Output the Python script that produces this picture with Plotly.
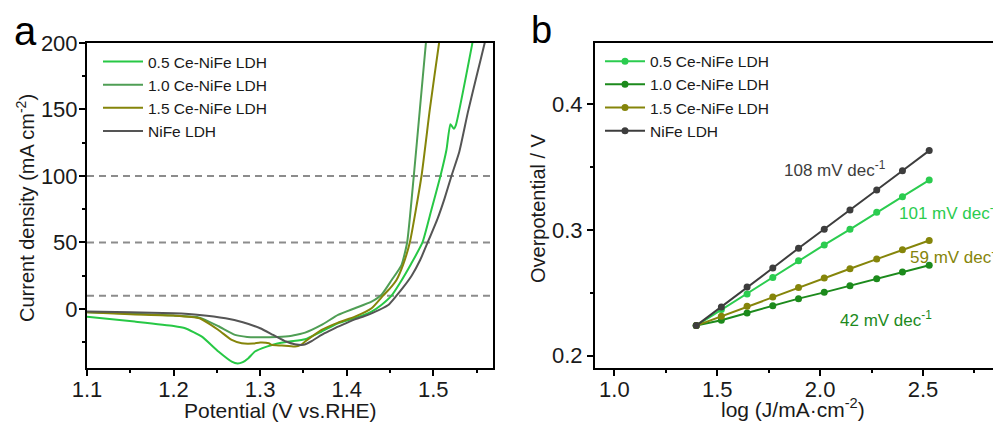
import plotly.graph_objects as go

# ---------------- Panel a: LSV curves ----------------
names = ["0.5 Ce-NiFe LDH", "1.0 Ce-NiFe LDH", "1.5 Ce-NiFe LDH", "NiFe LDH"]

pot_05 = [1.10, 1.155, 1.20, 1.2134, 1.2327, 1.2518, 1.2672, 1.274, 1.28, 1.2864, 1.294, 1.3076, 1.32, 1.334,
          1.352, 1.371, 1.39, 1.409, 1.4287, 1.44, 1.4518, 1.4613, 1.4745, 1.4875, 1.498, 1.5083, 1.5152,
          1.5198, 1.5237, 1.526, 1.5452, 1.548]
cur_05 = [-5.8, -9.5, -12.8, -14.5, -20.8, -32, -39.6, -41, -40, -37, -32, -28.3, -26, -24.5,
          -22.8, -17, -10.8, -7, -2, 3, 10, 19.3, 34, 50, 75, 100, 119.5,
          139, 135.5, 138, 200, 210]

pot_10 = [1.10, 1.15, 1.20, 1.23, 1.2518, 1.271, 1.285, 1.30, 1.32, 1.335, 1.346, 1.352, 1.371, 1.39,
          1.4095, 1.4287, 1.44, 1.452, 1.4633, 1.4698, 1.4775, 1.4845, 1.4915, 1.493]
cur_10 = [-2.5, -3.5, -5, -6.5, -13, -19.5, -21, -21.3, -21, -20.3, -18.8, -17.8, -12, -4.5,
          0.5, 5.5, 10.5, 21.8, 33, 50, 100, 150, 200, 210]

pot_15 = [1.10, 1.15, 1.20, 1.23, 1.2518, 1.2672, 1.2788, 1.292, 1.30, 1.31, 1.3134, 1.325, 1.3403, 1.347,
          1.352, 1.371, 1.39, 1.4095, 1.4287, 1.442, 1.452, 1.4575, 1.465, 1.4729, 1.4864, 1.496, 1.5067, 1.509]
cur_15 = [-2.5, -4, -5, -7, -15.8, -23.3, -25.8, -26, -25.3, -25.8, -27, -27.5, -28.3, -27,
          -24.5, -15.8, -10.3, -5.8, 0.5, 10, 17, 21.8, 33, 50, 100, 150, 200, 210]

pot_nife = [1.10, 1.15, 1.20, 1.23, 1.26, 1.28, 1.30, 1.315, 1.33, 1.34, 1.35, 1.36, 1.371, 1.38, 1.39,
            1.40, 1.4095, 1.42, 1.4287, 1.448, 1.4575, 1.465, 1.475, 1.485, 1.4935, 1.505, 1.513, 1.521,
            1.53, 1.54, 1.55, 1.5594, 1.562]
cur_nife = [-2, -2.5, -3.3, -4.5, -7, -10, -14.5, -19.5, -24.5, -26.5, -27, -24, -19.5, -16.5, -13.3,
            -10.5, -7.8, -5.5, -3.3, 3, 10, 16, 25, 37, 50, 68, 83, 100,
            118, 148, 175, 200, 208]

ref_levels = [10, 50, 100]

# ---------------- Panel b: Tafel plots ----------------
log_j = [1.398, 1.52, 1.645, 1.77, 1.895, 2.02, 2.145, 2.275, 2.40, 2.53]
eta_05 = [0.224, 0.2367, 0.249, 0.2622, 0.2755, 0.2881, 0.3005, 0.314, 0.3264, 0.3396]
eta_10 = [0.224, 0.2282, 0.234, 0.2398, 0.2454, 0.2504, 0.2557, 0.2612, 0.2665, 0.272]
eta_15 = [0.224, 0.2314, 0.2393, 0.2467, 0.2543, 0.2618, 0.2691, 0.2768, 0.2842, 0.2916]
eta_nife = [0.224, 0.2388, 0.2546, 0.2697, 0.2855, 0.3005, 0.3158, 0.3317, 0.347, 0.363]

slopes = ["108 mV dec<sup>-1</sup>", "101 mV dec<sup>-1</sup>", "59 mV dec<sup>-1</sup>", "42 mV dec<sup>-1</sup>"]

col_a = ["#27c845", "#4f9e55", "#85850a", "#555555"]
col_b = ["#2bcc4f", "#1c8a1c", "#85850a", "#3d3d3d"]

FONT = "Arial"
W, H = 993, 423

fig = go.Figure()

pa = [(pot_05, cur_05), (pot_10, cur_10), (pot_15, cur_15), (pot_nife, cur_nife)]
for (xs, ys), nm, c in zip(pa, names, col_a):
    fig.add_trace(go.Scatter(x=xs, y=ys, mode="lines", name=nm, line=dict(color=c, width=2, shape="spline", smoothing=0.5),
                             xaxis="x", yaxis="y", legend="legend"))

pb = [eta_05, eta_10, eta_15, eta_nife]
for ys, nm, c in zip(pb, names, col_b):
    fig.add_trace(go.Scatter(x=log_j, y=ys, mode="lines+markers", name=nm,
                             line=dict(color=c, width=2), marker=dict(color=c, size=7),
                             xaxis="x2", yaxis="y2", legend="legend2"))

shapes = []
for lv in ref_levels:
    shapes.append(dict(type="line", xref="x domain", yref="y", x0=0, x1=1, y0=lv, y1=lv,
                       line=dict(color="#8c8c8c", width=2, dash="7px,5px"), layer="below"))

axis_common = dict(showline=True, linecolor="black", linewidth=2, ticks="outside", ticklen=6,
                   tickwidth=2, tickcolor="black", showgrid=False, zeroline=False, automargin=False,
                   tickfont=dict(family=FONT, size=22, color="#1a1a1a"))

minor_common = dict(ticklen=3, ticks="outside")

fig.update_layout(
    width=W, height=H,
    margin=dict(l=0, r=0, t=43, b=55, autoexpand=False),
    plot_bgcolor="white", paper_bgcolor="white",
    font=dict(family=FONT, color="#1a1a1a"),
    xaxis=dict(domain=[87 / W, 493 / W], range=[1.1, 1.569], dtick=0.1, tick0=1.1, mirror=True,
               ticklabelstandoff=-5, minor=dict(dtick=0.05, **minor_common), anchor="y", **axis_common),
    yaxis=dict(domain=[0, 1], range=[-44.4, 200], dtick=50, tick0=0, mirror=True, ticklabelstandoff=-3,
               minor=dict(dtick=25, **minor_common), anchor="x", **axis_common),
    xaxis2=dict(domain=[595 / W, 1.0], range=[0.906, 2.84], dtick=0.5, tick0=1.0, tickformat=".1f",
                mirror=True, ticklabelstandoff=-5, minor=dict(dtick=0.25, **minor_common), anchor="y2",
                **axis_common),
    yaxis2=dict(domain=[0, 1], range=[0.1903, 0.4485], dtick=0.1, tick0=0.2, tickformat=".1f", mirror=False,
                minor=dict(dtick=0.05, **minor_common), anchor="x2", **axis_common),
    shapes=shapes,
    legend=dict(x=98 / W, y=0.994, xanchor="left", yanchor="top", bgcolor="rgba(0,0,0,0)",
                font=dict(family=FONT, size=15.5, color="#1a1a1a"), tracegroupgap=0, itemwidth=40),
    legend2=dict(x=600 / W, y=0.995, xanchor="left", yanchor="top", bgcolor="rgba(0,0,0,0)",
                 font=dict(family=FONT, size=15.5, color="#1a1a1a"), tracegroupgap=0, itemwidth=40),
    showlegend=True,
)

ann = []
# panel letters
ann.append(dict(text="a", x=25 / W, y=1 + (43 - 31) / 325, xref="paper", yref="paper", showarrow=False,
                font=dict(family=FONT, size=40, color="black"), xanchor="center", yanchor="middle"))
ann.append(dict(text="b", x=541 / W, y=1 + (43 - 30) / 325, xref="paper", yref="paper", showarrow=False,
                font=dict(family=FONT, size=38, color="black"), xanchor="center", yanchor="middle"))
# axis titles
ann.append(dict(text="Potential (V vs.RHE)", x=280 / W, y=-(410 - 368) / 325, xref="paper", yref="paper",
                showarrow=False, font=dict(family=FONT, size=21, color="#1a1a1a"), xanchor="center", yanchor="middle"))
ann.append(dict(text="log (J/mA·cm<sup>-2</sup>)", x=793 / W, y=-(408 - 368) / 325, xref="paper", yref="paper",
                showarrow=False, font=dict(family=FONT, size=21, color="#1a1a1a"), xanchor="center", yanchor="middle"))
ann.append(dict(text="Current density (mA cm<sup>-2</sup>)", x=25 / W, y=1 - (208 - 43) / 325, xref="paper",
                yref="paper", showarrow=False, textangle=-90,
                font=dict(family=FONT, size=20, color="#1a1a1a"), xanchor="center", yanchor="middle"))
ann.append(dict(text="Overpotential / V", x=538 / W, y=1 - (208 - 43) / 325, xref="paper",
                yref="paper", showarrow=False, textangle=-90,
                font=dict(family=FONT, size=20, color="#1a1a1a"), xanchor="center", yanchor="middle"))
# slope labels
slope_pos = [(1.817, 0.3483), (2.375, 0.3143), (2.429, 0.2794), (2.089, 0.2290)]
slope_col = [col_b[3], col_b[0], col_b[2], col_b[1]]
for t, (sx, sy), c in zip(slopes, slope_pos, slope_col):
    ann.append(dict(text=t, x=sx, y=sy, xref="x2", yref="y2", showarrow=False, xanchor="left",
                    yanchor="middle", font=dict(family=FONT, size=17, color=c)))
fig.update_layout(annotations=ann)

fig.write_html("out.html", config={"displayModeBar": False},
               post_script="document.body.style.margin='0px';")
